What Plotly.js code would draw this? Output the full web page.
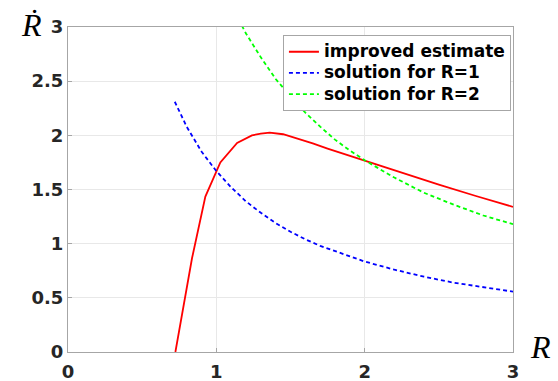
<!DOCTYPE html>
<html>
<head>
<meta charset="utf-8">
<script src="https://cdn.plot.ly/plotly-3.0.1.min.js"></script>
<style>html,body{margin:0;padding:0;background:#fff}</style>
</head>
<body>
<div id="chart" style="width:558px;height:381px"></div>
<script>
// improved estimate (red solid)
const redR = [0.724, 0.836, 0.926, 1.027, 1.14, 1.24, 1.30, 1.36, 1.45, 1.55, 1.65, 1.75, 1.85, 2.0, 2.15, 2.3, 2.5, 2.75, 3.0];
const redV = [0.0, 0.865, 1.434, 1.75, 1.93, 2.0, 2.015, 2.025, 2.01, 1.97, 1.925, 1.878, 1.833, 1.77, 1.70, 1.635, 1.545, 1.44, 1.34];
// solution for R=1 (blue dashed)
const blueR = [0.72, 0.8, 0.9, 1.0, 1.1, 1.2, 1.3, 1.4, 1.5, 1.6, 1.7, 1.8, 1.9, 2.0, 2.2, 2.4, 2.6, 2.8, 3.0];
const blueV = [2.31, 2.08, 1.85, 1.67, 1.52, 1.39, 1.285, 1.19, 1.11, 1.04, 0.98, 0.93, 0.88, 0.835, 0.76, 0.695, 0.64, 0.595, 0.557];
// solution for R=2 (green dashed)
const greenR = [1.15, 1.2, 1.3, 1.4, 1.5, 1.6, 1.7, 1.8, 1.9, 2.0, 2.2, 2.4, 2.6, 2.8, 3.0];
const greenV = [3.07, 2.94, 2.72, 2.52, 2.36, 2.21, 2.08, 1.96, 1.86, 1.77, 1.61, 1.47, 1.36, 1.26, 1.18];
const names = ["improved estimate", "solution for R=1", "solution for R=2"];
const xTicks = [0, 1, 2, 3];
const yTicks = [0, 0.5, 1, 1.5, 2, 2.5, 3];

const big = s => '<span style="font-size:17px">' + s + '</span>';
const traces = [
  {x: redR, y: redV, name: big(names[0]), mode: "lines", line: {color: "#ff0000", width: 1.8}},
  {x: blueR, y: blueV, name: big(names[1]), mode: "lines", line: {color: "#0000ff", width: 1.8, dash: "4px,3px"}},
  {x: greenR, y: greenV, name: big(names[2]), mode: "lines", line: {color: "#00ff00", width: 1.8, dash: "4px,3px"}}
];

const tickFont = {family: "DejaVu Sans", size: 18, color: "#262626", weight: "bold"};
const axisCommon = {
  showline: true, mirror: true, linecolor: "#a6a6a6", linewidth: 1,
  showgrid: true, gridcolor: "#e8e8e8", gridwidth: 1,
  zeroline: false, ticks: "inside", ticklen: 4, tickcolor: "#a6a6a6",
  tickfont: tickFont
};

const layout = {
  width: 558, height: 381,
  margin: {l: 68, r: 45, t: 27, b: 29},
  paper_bgcolor: "#fff", plot_bgcolor: "#fff",
  showlegend: true,
  xaxis: Object.assign({}, axisCommon, {range: [0, 3], tickvals: xTicks, ticktext: xTicks.map(String), ticklabelstandoff: 3}),
  yaxis: Object.assign({}, axisCommon, {range: [0, 3], tickvals: yTicks, ticktext: yTicks.map(String)}),
  legend: {
    x: 0.483, y: 0.975, xanchor: "left", yanchor: "top",
    bgcolor: "#fff", bordercolor: "#a6a6a6", borderwidth: 1,
    font: {family: "DejaVu Sans", size: 14, color: "#000", weight: "bold"},
    itemwidth: 30, tracegroupgap: 0
  },
  annotations: [
    {text: "<i>Ṙ</i>", xref: "paper", yref: "paper", x: -0.083, y: 1.005, xanchor: "center", yanchor: "middle",
     showarrow: false, font: {family: "Liberation Serif, DejaVu Serif", size: 32, color: "#000"}},
    {text: "<i>R</i>", xref: "paper", yref: "paper", x: 1.062, y: 0.015, xanchor: "center", yanchor: "middle",
     showarrow: false, font: {family: "Liberation Serif, DejaVu Serif", size: 32, color: "#000"}}
  ]
};

Plotly.newPlot("chart", traces, layout, {displayModeBar: false, staticPlot: true});
</script>
</body>
</html>
